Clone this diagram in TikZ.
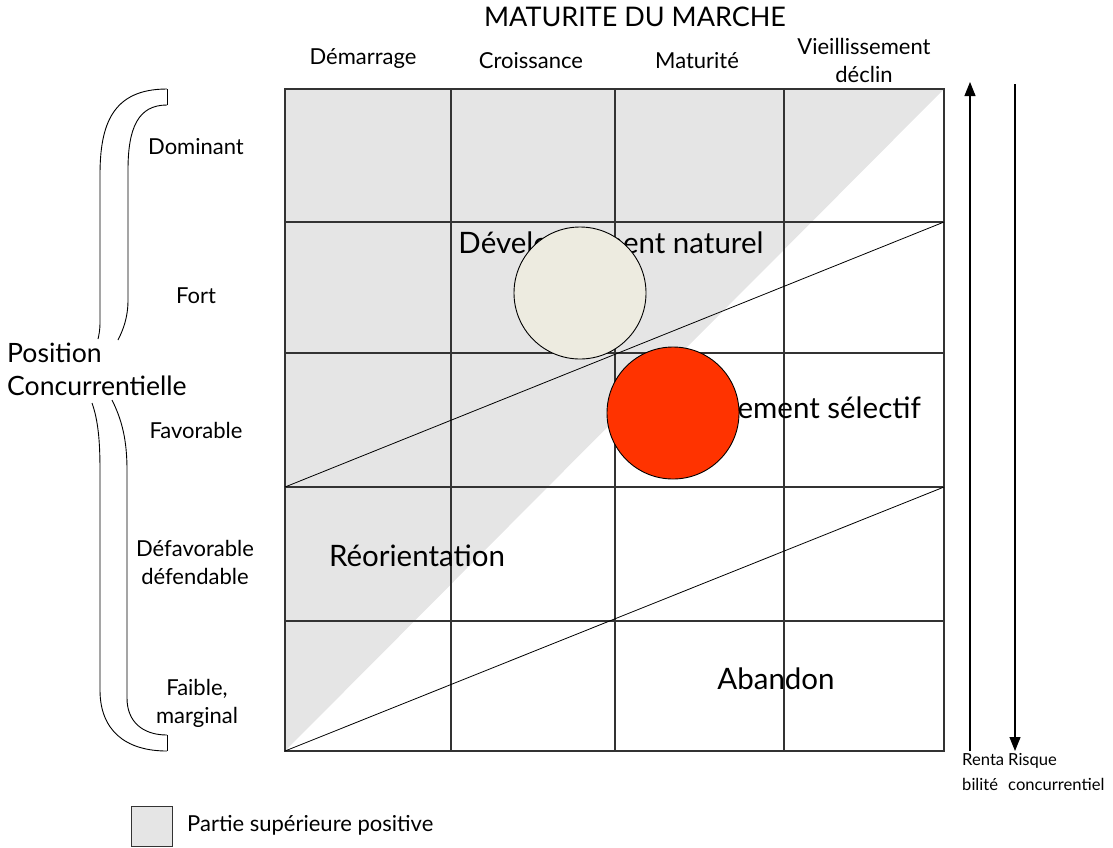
\documentclass[tikz,border=0pt]{standalone}
\usepackage{fontspec}
\setmainfont{Lato}
\usetikzlibrary{arrows.meta}
\definecolor{posgray}{HTML}{E5E5E5}
\definecolor{beige}{HTML}{EDEBE0}
\definecolor{redc}{HTML}{FF3300}
\definecolor{gridc}{HTML}{333333}
\tikzset{
  lbl/.style={inner sep=0pt, font=\fontsize{22}{28}\selectfont, align=center},
  big/.style={inner sep=0pt, font=\fontsize{29.5}{34}\selectfont},
  small/.style={inner sep=0pt, font=\fontsize{16.6}{25}\selectfont, align=left, anchor=north west},
  gridline/.style={draw=gridc, line width=1.1pt},
  diag/.style={draw=black, line width=0.8pt},
  brace/.style={draw=black, line width=0.9pt},
  axisarrow/.style={draw=black, line width=1.1pt, -{Triangle[length=14pt,width=11pt]}},
  bubble/.style={circle, draw=black, line width=0.9pt, minimum size=132pt, inner sep=0pt}
}
\begin{document}
\begin{tikzpicture}[x=1pt,y=-1pt]
\useasboundingbox (0,0) rectangle (1113,847);
% grey positive part
\fill[posgray] (285,89) -- (944,89) -- (285,751) -- cycle;
% grid
\draw[gridline] (285,89) rectangle (944,751);
\foreach \x in {451,615,784} \draw[gridline] (\x,89) -- (\x,751);
\foreach \y in {222,353,487,621} \draw[gridline] (285,\y) -- (944,\y);
% diagonals
\coordinate (bl) at (285,751);
\coordinate (r3) at (944,487);
\coordinate (l3) at (285,487);
\coordinate (r1) at (944,222);
\draw[diag] (bl) -- (r3);
\draw[diag] (l3) -- (r1);
% titles
\node[lbl, font=\fontsize{27}{32}\selectfont] (title) at (635,17) {MATURITE DU MARCHE};
\node[lbl] (c1) at (363,59) {Démarrage};
\node[lbl] (c2) at (531,61) {Croissance};
\node[lbl] (c3) at (697,61) {Maturité};
\node[lbl] (c4) at (864,60) {Vieillissement\\déclin};
\node[lbl] (r1l) at (196,147) {Dominant};
\node[lbl] (r2l) at (196,296) {Fort};
\node[lbl] (r3l) at (196,430) {Favorable};
\node[lbl] (r4l) at (195,562) {Défavorable\\défendable};
\node[lbl] (r5l) at (197,703) {Faible,\\marginal};
\node[inner sep=0pt, font=\fontsize{26.6}{33}\selectfont, align=left, anchor=west] (pc) at (7,369) {Position\\Concurrentielle};
% zone labels
\node[big] (dn) at (611,245) {Développement naturel};
\node[big, anchor=east] (ds) at (921,410) {Développement sélectif};
\node[big] (reo) at (417,556) {Réorientation};
\node[big] (ab) at (776,679) {Abandon};
% bubbles
\node[bubble, fill=beige] (b1) at (580,293) {};
\node[bubble, fill=redc] (b2) at (673,413) {};
% braces
\draw[brace] (167,89) .. controls (112,89) and (100,125) .. (100,175) -- (100,322) .. controls (100,330) and (99,335) .. (98,339);
\draw[brace] (167,105) .. controls (138,105) and (128,128) .. (128,170) -- (128,300) .. controls (128,318) and (123,330) .. (118,340);
\draw[brace] (167,89) -- (167,105);
\draw[brace] (92,403) .. controls (98,420) and (100,440) .. (100,470) -- (100,690) .. controls (100,730) and (125,751) .. (167,751);
\draw[brace] (112,400) .. controls (122,420) and (127,440) .. (127,470) -- (127,698) .. controls (127,722) and (143,735) .. (167,735);
\draw[brace] (167,735) -- (167,751);
% side arrows
\coordinate (ra0) at (970,751);
\coordinate (ra1) at (970,82);
\coordinate (rb0) at (1015,84);
\coordinate (rb1) at (1015,751);
\draw[axisarrow] (ra0) -- (ra1);
\draw[axisarrow] (rb0) -- (rb1);
\node[small] (rent) at (962,753) {Renta\\bilité};
\node[small] (risq) at (1008,753) {Risque\\concurrentiel};
% legend
\draw[draw=gridc, line width=1pt, fill=posgray] (131,806) rectangle (172,846);
\node[lbl, anchor=west] (leg) at (187,825) {Partie supérieure positive};
\end{tikzpicture}
\end{document}
